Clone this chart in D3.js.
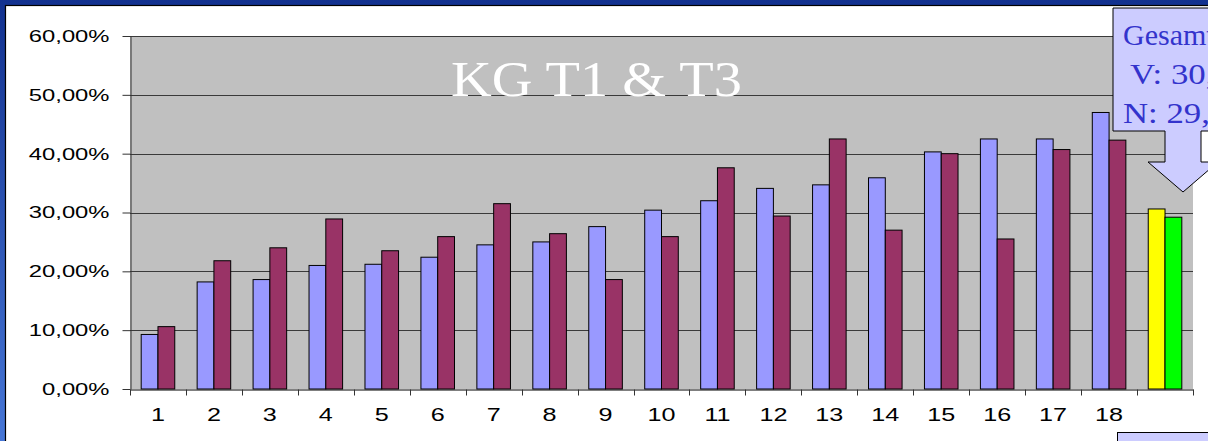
<!DOCTYPE html>
<html>
<head>
<meta charset="utf-8">
<script src="https://cdn.jsdelivr.net/npm/d3@7"></script>
<style>
  html, body { margin: 0; padding: 0; background: #fff; }
  svg { display: block; }
</style>
</head>
<body>
<script>
// categories (the 19th group is the overall "Gesamt" pair, no tick label)
var categories = ["1","2","3","4","5","6","7","8","9","10","11","12","13","14","15","16","17","18","Gesamt"];
var tickLabels = ["1","2","3","4","5","6","7","8","9","10","11","12","13","14","15","16","17","18",""];

// V (first bar) and N (second bar), fractions
var valuesV = [0.0927,0.182,0.186,0.210,0.212,0.224,0.245,0.250,0.276,0.304,0.320,0.341,0.347,0.359,0.403,0.425,0.425,0.470,0.306];
var valuesN = [0.106,0.218,0.240,0.289,0.235,0.259,0.315,0.264,0.186,0.259,0.376,0.294,0.425,0.270,0.400,0.255,0.407,0.423,0.292];

var colorsV = ["#9999ff","#9999ff","#9999ff","#9999ff","#9999ff","#9999ff","#9999ff","#9999ff","#9999ff","#9999ff","#9999ff","#9999ff","#9999ff","#9999ff","#9999ff","#9999ff","#9999ff","#9999ff","#ffff00"];
var colorsN = ["#993366","#993366","#993366","#993366","#993366","#993366","#993366","#993366","#993366","#993366","#993366","#993366","#993366","#993366","#993366","#993366","#993366","#993366","#00ff00"];

var yTicks = [0, 0.1, 0.2, 0.3, 0.4, 0.5, 0.6];

var title = "KG T1 & T3";
var calloutLines = ["Gesamt", "V: 30,61%", "N: 29,22%"];

var width = 1208, height = 441;

var svg = d3.select("body").append("svg")
    .attr("width", width)
    .attr("height", height);

// frame: blue gradient border with white slide area
var defs = svg.append("defs");
var grad = defs.append("linearGradient")
    .attr("id", "frameGrad")
    .attr("x1", 0).attr("y1", 0).attr("x2", 0).attr("y2", 1);
grad.append("stop").attr("offset", "0%").attr("stop-color", "#12318f");
grad.append("stop").attr("offset", "100%").attr("stop-color", "#4676d6");

svg.append("rect")
    .attr("width", width).attr("height", height)
    .attr("fill", "url(#frameGrad)");
svg.append("rect")
    .attr("x", 5.5).attr("y", 5.5)
    .attr("width", width + 10).attr("height", height + 10)
    .attr("fill", "#ffffff")
    .attr("stroke", "#000").attr("stroke-width", 1.2);

var plotLeft = 130, plotRight = 1193, plotTop = 36, plotBottom = 389;

var x = d3.scaleBand()
    .domain(categories)
    .range([plotLeft, plotRight])
    .paddingInner(0)
    .paddingOuter(0);

var y = d3.scaleLinear()
    .domain([0, 0.6])
    .range([plotBottom, plotTop]);

var bw = x.bandwidth();
var barW = bw / (2 + 4 / 3);
var barOff = (bw - 2 * barW) / 2;

// plot area
svg.append("rect")
    .attr("x", plotLeft).attr("y", plotTop)
    .attr("width", plotRight - plotLeft).attr("height", plotBottom - plotTop)
    .attr("fill", "#c0c0c0");

// gridlines
svg.append("g")
    .selectAll("line")
    .data(yTicks.slice(1))
    .join("line")
    .attr("x1", plotLeft).attr("x2", plotRight)
    .attr("y1", function(d) { return Math.round(y(d)) + 0.5; })
    .attr("y2", function(d) { return Math.round(y(d)) + 0.5; })
    .attr("stroke", "#3a3a3a")
    .attr("stroke-width", 1);

// bars
var groups = svg.append("g")
    .selectAll("g")
    .data(categories)
    .join("g");

groups.append("rect")
    .attr("x", function(d) { return x(d) + barOff; })
    .attr("y", function(d, i) { return y(valuesV[i]); })
    .attr("width", barW)
    .attr("height", function(d, i) { return y(0) - y(valuesV[i]); })
    .attr("fill", function(d, i) { return colorsV[i]; })
    .attr("stroke", "#000")
    .attr("stroke-width", 1);

groups.append("rect")
    .attr("x", function(d) { return x(d) + barOff + barW; })
    .attr("y", function(d, i) { return y(valuesN[i]); })
    .attr("width", barW)
    .attr("height", function(d, i) { return y(0) - y(valuesN[i]); })
    .attr("fill", function(d, i) { return colorsN[i]; })
    .attr("stroke", "#000")
    .attr("stroke-width", 1);

// y axis
var fmt = function(d) { return d3.format(".2%")(d).replace(".", ","); };
var yAxis = svg.append("g")
    .attr("transform", "translate(" + (plotLeft + 0.5) + ",0)")
    .call(d3.axisLeft(y).tickValues(yTicks).tickFormat(fmt).tickSize(8).tickSizeOuter(0));
yAxis.select(".domain").attr("stroke", "#333");
yAxis.selectAll(".tick line").attr("stroke", "#333");
yAxis.selectAll(".tick text")
    .attr("font-family", "'Liberation Sans', Arial, sans-serif")
    .attr("font-size", 17)
    .attr("fill", "#000")
    .attr("x", -21 / 1.4)
    .attr("transform", "scale(1.4,1)");

// x axis: labels at band centres, ticks at band boundaries
var xAxis = svg.append("g")
    .attr("transform", "translate(0," + (plotBottom + 0.5) + ")")
    .call(d3.axisBottom(x).tickFormat(function(d, i) { return tickLabels[i]; }).tickSize(0).tickSizeOuter(0));
xAxis.select(".domain").attr("stroke", "#000");
xAxis.selectAll(".tick text")
    .attr("font-family", "'Liberation Sans', Arial, sans-serif")
    .attr("font-size", 18)
    .attr("fill", "#000")
    .attr("dy", 0)
    .attr("y", 32)
    .attr("transform", "scale(1.4,1)");

var bounds = categories.map(function(d) { return x(d); }).concat([plotRight]);
xAxis.append("g")
    .selectAll("line")
    .data(bounds)
    .join("line")
    .attr("x1", function(d) { return Math.round(d) + 0.5; })
    .attr("x2", function(d) { return Math.round(d) + 0.5; })
    .attr("y1", 0).attr("y2", 6)
    .attr("stroke", "#333");

// title inside plot area
svg.append("text")
    .attr("x", 451).attr("y", 96)
    .attr("font-family", "'Liberation Serif', 'DejaVu Serif', serif")
    .attr("font-size", 50)
    .attr("fill", "#ffffff")
    .attr("textLength", 291)
    .attr("lengthAdjust", "spacingAndGlyphs")
    .text(title);

// down-arrow callout (Gesamt)
var cl = 1113, cr = 1253, ct = 8, cb = 131, sl = 1165, sr = 1201, hl = 1148, hr = 1218, hy = 162, tip = 192, tx = 1183;
svg.append("path")
    .attr("d", "M" + cl + "," + ct + "H" + cr + "V" + cb + "H" + sr + "V" + hy + "H" + hr +
               "L" + tx + "," + tip + "L" + hl + "," + hy + "H" + sl + "V" + cb + "H" + cl + "Z")
    .attr("fill", "#ccccff")
    .attr("stroke", "#000")
    .attr("stroke-width", 1);

var lineX = [1123, 1130, 1123];
var lineY = [45, 84, 123];
var lineStretch = [1, 1.16, 1.16];
svg.append("g")
    .selectAll("text")
    .data(calloutLines)
    .join("text")
    .attr("x", 0)
    .attr("y", 0)
    .attr("transform", function(d, i) {
      return "translate(" + lineX[i] + "," + lineY[i] + ") scale(" + lineStretch[i] + ",1)";
    })
    .attr("font-family", "'Liberation Serif', 'DejaVu Serif', serif")
    .attr("font-size", 30)
    .attr("fill", "#3333cc")
    .text(function(d) { return d; });

// second callout box, bottom right (cut off)
svg.append("rect")
    .attr("x", 1117.5).attr("y", 432.5)
    .attr("width", 200).attr("height", 60)
    .attr("fill", "#ccccff")
    .attr("stroke", "#000");
</script>
</body>
</html>
